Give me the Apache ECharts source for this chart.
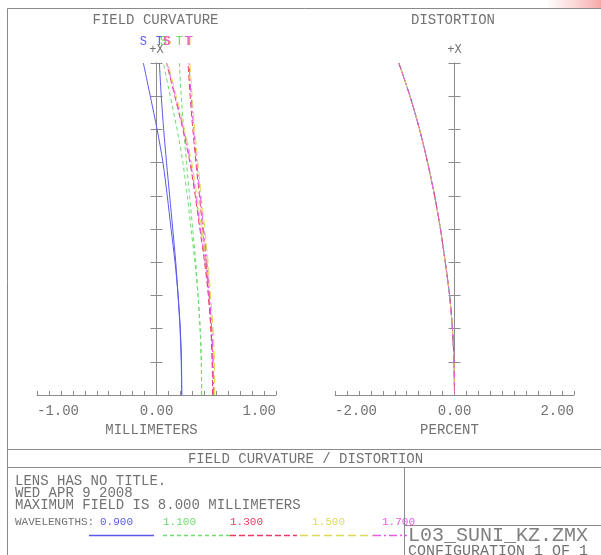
<!DOCTYPE html>
<html><head><meta charset="utf-8">
<script src="https://cdn.jsdelivr.net/npm/echarts@6/dist/echarts.min.js"></script>
<style>html,body{margin:0;padding:0;background:#fff}#c{width:601px;height:555px}</style>
</head><body><div id="c"></div>
<script>
// ---- data ----
const fieldMM = [0, 0.8, 1.6, 2.4, 3.2, 4.0, 4.8, 5.6, 6.4, 7.2, 8.0];   // field height (mm), bottom -> top
const wavelengths = ['0.900', '1.100', '1.300', '1.500', '1.700'];
// field curvature (mm), sagittal / tangential, per wavelength
const sag0900 = [0.211, 0.209, 0.199, 0.181, 0.155, 0.122, 0.090, 0.054, 0.005, -0.052, -0.110];
const tan0900 = [0.211, 0.207, 0.197, 0.180, 0.161, 0.136, 0.110, 0.084, 0.060, 0.040, 0.024];
const sag1100 = [0.378, 0.376, 0.366, 0.348, 0.322, 0.289, 0.257, 0.221, 0.172, 0.115, 0.058];
const tan1100 = [0.378, 0.374, 0.364, 0.347, 0.328, 0.303, 0.277, 0.251, 0.227, 0.207, 0.191];
const sag1300 = [0.470, 0.467, 0.456, 0.434, 0.402, 0.363, 0.324, 0.280, 0.221, 0.153, 0.084];
const tan1300 = [0.470, 0.466, 0.455, 0.436, 0.415, 0.387, 0.359, 0.330, 0.304, 0.282, 0.264];
const sag1500 = [0.487, 0.484, 0.473, 0.450, 0.419, 0.378, 0.339, 0.295, 0.235, 0.166, 0.096];
const tan1500 = [0.487, 0.483, 0.471, 0.453, 0.432, 0.404, 0.375, 0.346, 0.320, 0.298, 0.280];
const sag1700 = [0.476, 0.473, 0.462, 0.440, 0.408, 0.368, 0.329, 0.285, 0.226, 0.157, 0.088];
const tan1700 = [0.476, 0.472, 0.461, 0.442, 0.422, 0.394, 0.366, 0.337, 0.311, 0.290, 0.272];
// distortion (percent), identical for all wavelengths at this scale
const distortion = [0, -0.008, -0.035, -0.082, -0.155, -0.235, -0.333, -0.450, -0.585, -0.745, -0.932];
const fcTicks = [-1, 0, 1];
const dtTicks = [-2, 0, 2];

// ---- style ----
const colors = ['#5a5aea', '#6cdc6c', '#ec3a62', '#dcdc58', '#e85ae8'];
const dashes = ['solid', [4, 3], [6, 3], [8, 4], [8, 3, 2, 3]];
const FONT = '"Liberation Mono", "DejaVu Sans Mono", monospace';
const GRAY = '#727272';
const AX = '#8c8c8c';

const sagList = [sag0900, sag1100, sag1300, sag1500, sag1700];
const tanList = [tan0900, tan1100, tan1300, tan1500, tan1700];

function fcSeries(xs, w, kind) {
  const n = xs.length;
  const data = xs.map((v, i) => i === n - 1
    ? {value: [v, fieldMM[i]], label: {show: true, formatter: kind, position: 'top', distance: 15,
        color: colors[w], fontFamily: FONT, fontSize: 12}}
    : [v, fieldMM[i]]);
  return {type: 'line', xAxisIndex: 0, yAxisIndex: 0, data, smooth: 0.3,
    symbol: 'circle', symbolSize: 0, showSymbol: true, silent: true,
    lineStyle: {color: colors[w], width: 1, type: dashes[w]}, itemStyle: {color: colors[w]},
    label: {show: false}, z: 3};
}
function dtSeries(w) {
  return {type: 'line', xAxisIndex: 1, yAxisIndex: 2, data: distortion.map((v, i) => [v, fieldMM[i]]),
    smooth: 0.3, symbol: 'none', silent: true,
    lineStyle: {color: colors[w], width: 1, type: dashes[w]}, z: 3};
}

const series = [];
for (let w = 0; w < 5; w++) { series.push(fcSeries(sagList[w], w, 'S')); series.push(fcSeries(tanList[w], w, 'T')); }
for (let w = 0; w < 5; w++) series.push(dtSeries(w));

function xAxisCfg(grid, min, max, interval, ticks, name) {
  return {type: 'value', gridIndex: grid, min, max, interval, position: 'bottom',
    axisLine: {onZero: false, lineStyle: {color: AX, width: 1}},
    axisTick: {inside: true, length: 4, lineStyle: {color: AX}},
    splitLine: {show: false},
    axisLabel: {margin: 9, color: GRAY, fontFamily: FONT, fontSize: 14,
      alignMinLabel: 'left', alignMaxLabel: 'right',
      formatter: v => ticks.some(t => Math.abs(t - v) < 1e-6) ? v.toFixed(2) : ''},
    name, nameLocation: 'middle', nameGap: 24,
    nameTextStyle: {color: GRAY, fontFamily: FONT, fontSize: 14, padding: [0, 10, 0, 0]}};
}
function yAxisCfg(grid, xIdx, inside, withName) {
  return {type: 'value', gridIndex: grid, min: 0, max: 8, interval: 0.8, position: 'left',
    axisLine: {show: true, onZero: true, onZeroAxisIndex: xIdx, lineStyle: {color: AX, width: 1}},
    axisTick: {inside, length: 6, lineStyle: {color: AX}},
    axisLabel: {show: false}, splitLine: {show: false},
    name: withName ? '+X' : '', nameLocation: 'end', nameGap: 7,
    nameTextStyle: {color: GRAY, fontFamily: FONT, fontSize: 12}};
}

function txt(text, x, y, size, color, align) {
  return {type: 'text', x, y, silent: true,
    style: {text, font: size + 'px ' + FONT, fill: color || GRAY,
      align: align || 'center', textAlign: align || 'center', verticalAlign: 'middle', textVerticalAlign: 'middle'}};
}
function ln(x1, y1, x2, y2, color, dash, width) {
  return {type: 'line', silent: true, z: 10, shape: {x1, y1, x2, y2},
    style: {stroke: color || '#8a8a8a', fill: null, lineWidth: width || 1, lineDash: dash || null, opacity: 1}};
}

const graphic = [
  {type: 'rect', silent: true, shape: {x: 545, y: 0, width: 56, height: 9},
    style: {fill: {type: 'linear', x: 0, y: 0, x2: 1, y2: 0, colorStops: [
      {offset: 0, color: 'rgba(248,170,170,0)'}, {offset: 1, color: 'rgba(245,140,140,0.75)'}]}}},
  ln(7.5, 8.5, 601, 8.5), ln(7.5, 8.5, 7.5, 555),
  ln(7.5, 449.5, 601, 449.5), ln(7.5, 467.5, 601, 467.5),
  ln(404.5, 467.5, 404.5, 555), ln(404.5, 525.5, 601, 525.5),
  txt('FIELD CURVATURE', 155.5, 20, 14),
  txt('DISTORTION', 453, 20, 14),
  txt('FIELD CURVATURE / DISTORTION', 305.5, 459, 14),
  txt('LENS HAS NO TITLE.', 15, 481, 14, GRAY, 'left'),
  txt('WED APR 9 2008', 15, 493, 14, GRAY, 'left'),
  txt('MAXIMUM FIELD IS 8.000 MILLIMETERS', 15, 505, 14, GRAY, 'left'),
  txt('WAVELENGTHS:', 15, 522, 11, GRAY, 'left'),
  txt('L03_SUNI_KZ.ZMX', 408, 536, 20, '#808080', 'left'),
  txt('CONFIGURATION 1 OF 1', 408, 551, 15, GRAY, 'left')
];
const wlX = [100, 163, 230, 312, 382];
const wlLine = [[89, 154], [163, 230], [230, 297], [300, 373], [373, 407]];
wavelengths.forEach((w, i) => {
  graphic.push(txt(w, wlX[i], 522, 11, colors[i], 'left'));
  graphic.push(ln(wlLine[i][0], 535.5, wlLine[i][1], 535.5, colors[i], dashes[i] === 'solid' ? null : dashes[i], 1.3));
});

const chart = echarts.init(document.getElementById('c'), null, {renderer: 'canvas'});
chart.setOption({
  animation: false,
  backgroundColor: '#ffffff',
  grid: [
    {left: 37, right: 325, top: 63, bottom: 160, outerBoundsMode: 'none', containLabel: false},
    {left: 335, right: 27, top: 63, bottom: 160, outerBoundsMode: 'none', containLabel: false}
  ],
  xAxis: [
    xAxisCfg(0, -1, 1, 0.1, fcTicks, 'MILLIMETERS'),
    xAxisCfg(1, -2, 2, 0.2, dtTicks, 'PERCENT')
  ],
  yAxis: [
    yAxisCfg(0, 0, true, true), yAxisCfg(0, 0, false, false),
    yAxisCfg(1, 1, true, true), yAxisCfg(1, 1, false, false)
  ],
  series,
  graphic
});
</script></body></html>
